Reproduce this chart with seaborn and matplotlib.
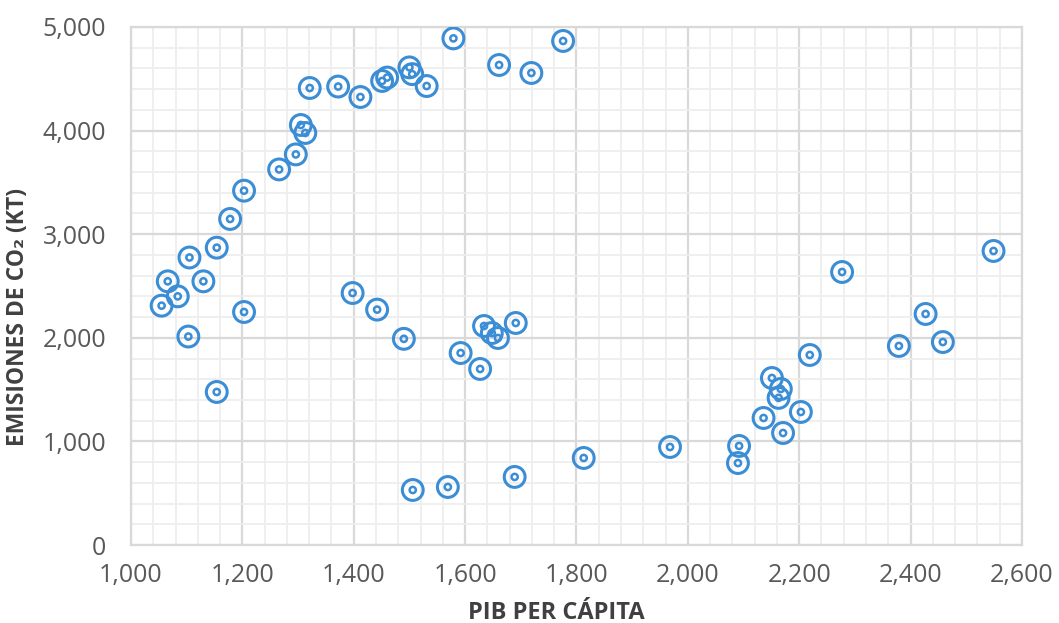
import matplotlib

matplotlib.use("Agg")
import matplotlib.pyplot as plt
import pandas as pd
import seaborn as sns
from matplotlib.ticker import FuncFormatter, MultipleLocator

# PIB per cápita vs emisiones de CO2 (kt)
pib = [
    1055, 1066, 1084, 1105, 1103, 1130, 1154, 1154, 1178, 1203, 1203,
    1266, 1296, 1305, 1313, 1321, 1372, 1412, 1398, 1442, 1451, 1460,
    1490, 1500, 1505, 1531, 1579, 1661, 1719, 1776,
    1592, 1627, 1634, 1648, 1659, 1691, 1506, 1569, 1689, 1813, 1968,
    2092, 2090, 2151, 2167, 2163, 2136, 2171, 2203, 2219, 2277, 2379,
    2427, 2458, 2549,
]
co2 = [
    2310, 2545, 2400, 2775, 2012, 2545, 2870, 1477, 3147, 3420, 2249,
    3625, 3770, 4054, 3977, 4411, 4425, 4324, 2432, 2272, 4479, 4512,
    1990, 4610, 4545, 4430, 4890, 4633, 4556, 4865,
    1853, 1699, 2114, 2046, 1998, 2143, 531, 560, 657, 840, 946,
    956, 791, 1612, 1506, 1420, 1226, 1081, 1284, 1834, 2635, 1921,
    2230, 1959, 2838,
]

df = pd.DataFrame({"pib": pib, "co2": co2})

blue = "#3b8dd5"
text_grey = "#595959"
label_grey = "#404040"

sns.set_theme(style="white")
plt.rcParams["font.family"] = ["Open Sans", "DejaVu Sans"]

fig = plt.figure(figsize=(10.59, 6.23), dpi=100)
ax = fig.add_axes([0.1237, 0.1252, 0.965 - 0.1237, 0.9567 - 0.1252])

# bullseye markers: outer ring + small inner ring
sns.scatterplot(data=df, x="pib", y="co2", ax=ax, s=225, facecolor="none",
                edgecolor=blue, linewidth=2.2, zorder=3)
sns.scatterplot(data=df, x="pib", y="co2", ax=ax, s=20, facecolor="none",
                edgecolor=blue, linewidth=1.8, zorder=3)

ax.set_xlim(1000, 2600)
ax.set_ylim(0, 5000)
ax.xaxis.set_major_locator(MultipleLocator(200))
ax.xaxis.set_minor_locator(MultipleLocator(40))
ax.yaxis.set_major_locator(MultipleLocator(1000))
ax.yaxis.set_minor_locator(MultipleLocator(200))
fmt = FuncFormatter(lambda v, _: f"{v:,.0f}")
ax.xaxis.set_major_formatter(fmt)
ax.yaxis.set_major_formatter(fmt)

ax.grid(which="major", color="#d9d9d9", linewidth=1.6, zorder=1)
ax.grid(which="minor", color="#eeeeee", linewidth=1.3, zorder=0)
ax.set_axisbelow(True)
for sp in ax.spines.values():
    sp.set_color("#d9d9d9")
    sp.set_linewidth(1.6)

ax.tick_params(which="both", length=0, labelsize=18, labelcolor=text_grey)
ax.tick_params(axis="x", pad=13)
ax.tick_params(axis="y", pad=18)

ax.set_xlabel("PIB PER CÁPITA", fontsize=17, fontweight="bold", color=label_grey)
ax.set_ylabel("EMISIONES DE CO₂ (KT)", fontsize=16.5, fontweight="bold",
              color=label_grey)
ax.xaxis.set_label_coords(0.477, -0.108)
ax.yaxis.set_label_coords(-0.113, 0.44)

fig.savefig("out.png", dpi=100)
